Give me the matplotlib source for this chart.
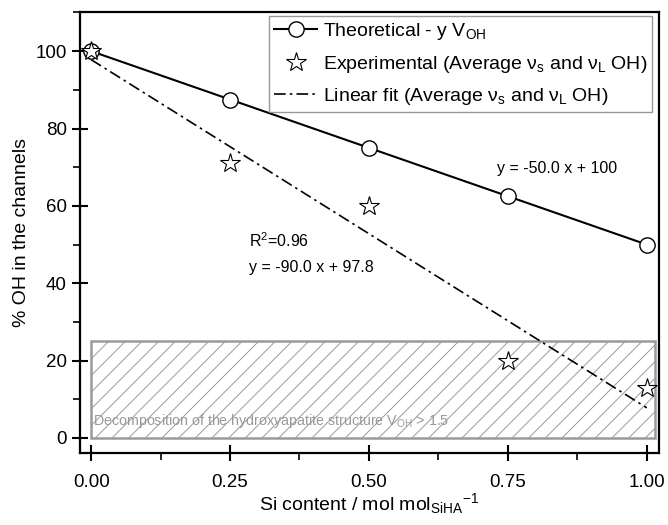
import numpy as np
import matplotlib
matplotlib.use("Agg")
from matplotlib import pyplot as plt
from matplotlib.patches import Rectangle
from matplotlib.ticker import MultipleLocator, FormatStrFormatter

plt.rcParams['font.family'] = ['Liberation Sans', 'DejaVu Sans']
plt.rcParams['mathtext.fontset'] = 'custom'
plt.rcParams['mathtext.rm'] = 'Liberation Sans'
plt.rcParams['mathtext.it'] = 'Liberation Sans'
plt.rcParams['mathtext.default'] = 'rm'
plt.rcParams['hatch.color'] = '#c4c4c4'
plt.rcParams['hatch.linewidth'] = 0.7

# data
si_content = [0.0, 0.25, 0.50, 0.75, 1.00]
theoretical = [100, 87.5, 75, 62.5, 50]
experimental = [100, 71, 60, 20, 13]
fit_x = [0.0, 1.0]
fit_slope, fit_icpt = -90.0, 97.8

fig = plt.figure(figsize=(6.68, 5.25), dpi=100)
ax = fig.add_axes([0.1198, 0.137, 0.8667, 0.840])

# zone where the apatite structure breaks down
box = Rectangle((0.0, 0.0), 1.0145, 25, facecolor='none', edgecolor='#9a9a9a',
                hatch='//', linewidth=1.8)
ax.add_patch(box)
ax.text(0.004, 3.3, 'Decomposition of the hydroxyapatite structure V$_{OH}$ > 1.5',
        color='#999999', fontsize=10.3)

ax.plot(si_content, theoretical, '-o', color='black', mfc='white', ms=11,
        lw=1.5, mew=1.0, label='Theoretical - y V$_{OH}$')
ax.plot(si_content, experimental, '*', color='black', mfc='white', ms=15,
        mew=0.8, label='Experimental (Average $\\nu_s$ and $\\nu_L$ OH)')
fx = np.array(fit_x)
ax.plot(fx, fit_slope * fx + fit_icpt, color='black', lw=1.2,
        dashes=[7, 2.5, 1.5, 2.5], label='Linear fit (Average $\\nu_s$ and $\\nu_L$ OH)')

ax.text(0.73, 68.5, 'y = -50.0 x + 100', fontsize=11.5)
ax.text(0.285, 49.5, 'R$^2$=0.96', fontsize=11.5)
ax.text(0.285, 43, 'y = -90.0 x + 97.8', fontsize=11.5)

ax.set_xlim(-0.02, 1.022)
ax.set_ylim(-3.9, 110.1)
ax.xaxis.set_major_locator(MultipleLocator(0.25))
ax.xaxis.set_minor_locator(MultipleLocator(0.125))
ax.yaxis.set_major_locator(MultipleLocator(20))
ax.yaxis.set_minor_locator(MultipleLocator(10))
ax.xaxis.set_major_formatter(FormatStrFormatter('%.2f'))
ax.tick_params(which='major', direction='inout', length=12, width=1.5,
               labelsize=13.5, top=False, right=False)
ax.tick_params(axis='x', which='major', pad=9)
ax.tick_params(which='minor', direction='out', length=5, width=1.2,
               top=False, right=False)
for s in ax.spines.values():
    s.set_linewidth(1.6)

ax.set_xlabel('Si content / mol mol$_{SiHA}$$^{-1}$', fontsize=14, labelpad=0)
ax.set_ylabel('% OH in the channels', fontsize=14)

leg = ax.legend(loc='upper right', bbox_to_anchor=(1 - 7 / 579, 1 - 4 / 441),
                fontsize=14, frameon=True, fancybox=False, borderaxespad=0.0,
                handlelength=2.2, handletextpad=0.3, borderpad=0.25,
                labelspacing=0.6)
leg.get_frame().set_edgecolor('#808080')
leg.get_frame().set_linewidth(1.0)

plt.savefig('out.png', dpi=100)
